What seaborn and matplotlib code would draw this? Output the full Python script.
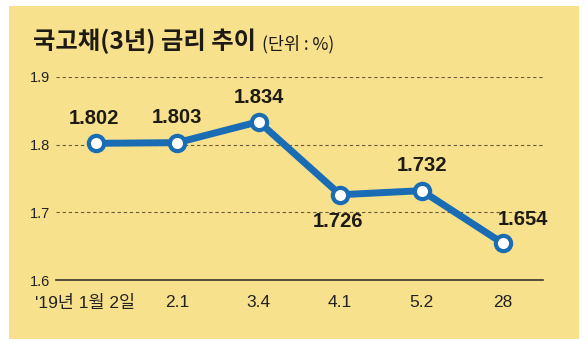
import matplotlib
matplotlib.use("Agg")
import matplotlib.pyplot as plt
from matplotlib.patches import Rectangle
from matplotlib.transforms import ScaledTranslation
import seaborn as sns
import pandas as pd

categories = ["'19년 1월 2일", "2.1", "3.4", "4.1", "5.2", "28"]
values = [1.802, 1.803, 1.834, 1.726, 1.732, 1.654]
value_labels = ["1.802", "1.803", "1.834", "1.726", "1.732", "1.654"]
y_ticks = [1.6, 1.7, 1.8, 1.9]
y_tick_labels = ["1.6", "1.7", "1.8", "1.9"]
title = "국고채(3년) 금리 추이"
unit = "(단위 : %)"

sns.set_theme(style="white")
plt.rcParams['font.family'] = ['Liberation Sans', 'Noto Sans CJK KR', 'DejaVu Sans']

BG = "#F8E18C"
BLUE = "#1A6CB5"
DARK = "#3a3328"

fig = plt.figure(figsize=(5.88, 3.48), dpi=100)
fig.patch.set_facecolor("white")
fig.patches.append(Rectangle((9/588, 1 - 339/348), (579-9)/588, (339-6)/348,
                             transform=fig.transFigure, facecolor=BG, edgecolor="none", zorder=-10))

ax = fig.add_axes([56/588, (348-280)/348, (543-56)/588, (280-77)/348])
ax.set_facecolor("none")

df = pd.DataFrame({"pos": list(range(len(categories))), "val": values})
sns.lineplot(data=df, x="pos", y="val", ax=ax, color=BLUE, linewidth=5,
             marker="o", markersize=11, markerfacecolor="white",
             markeredgecolor=BLUE, markeredgewidth=3, clip_on=False, zorder=5)

ax.set_xlim(-0.49, 5.49)
ax.set_ylim(1.6, 1.9)
ax.set_xlabel("")
ax.set_ylabel("")

for y in y_ticks[1:]:
    ax.axhline(y, color="#6b5a3a", linewidth=0.8, linestyle=(0, (3, 2.5)), zorder=1)

for s in ["top", "right", "left"]:
    ax.spines[s].set_visible(False)
ax.spines["bottom"].set_color(DARK)
ax.spines["bottom"].set_linewidth(1.2)

ax.set_xticks(df["pos"])
ax.set_xticklabels(categories, fontsize=12.5, color="#222222",
                   family=['Liberation Sans', 'Noto Sans CJK KR', 'DejaVu Sans'])
ax.tick_params(axis="x", direction="in", length=5, width=1, color=DARK, pad=11)
ax.set_yticks(y_ticks)
ax.set_yticklabels(y_tick_labels, fontsize=10.5, color="#222222")
ax.tick_params(axis="y", length=0, pad=4)

lbl0 = ax.get_xticklabels()[0]
lbl0.set_transform(lbl0.get_transform() + ScaledTranslation(-11/100, 0, fig.dpi_scale_trans))

offsets = [(-1.5, 18), (0, 18), (0, 17.5), (-1.5, -19.5), (0, 18), (14, 17)]
for i, (v, t) in enumerate(zip(values, value_labels)):
    ax.annotate(t, (i, v), xytext=offsets[i], textcoords="offset points",
                ha="center", va="center", fontsize=14.5, fontweight="bold",
                color="#1e1a14", zorder=6)

fig.text(33/588, 1 - 41/348, title, fontsize=17.5, fontweight="bold",
         family=['Noto Sans CJK KR', 'DejaVu Sans'], color="#1e1a14",
         ha="left", va="center")
fig.text(262/588, 1 - 44/348, unit, fontsize=12.5,
         family=['Noto Sans CJK KR', 'DejaVu Sans'], color="#1e1a14",
         ha="left", va="center")

fig.savefig("out.png", dpi=100, facecolor=fig.get_facecolor())
